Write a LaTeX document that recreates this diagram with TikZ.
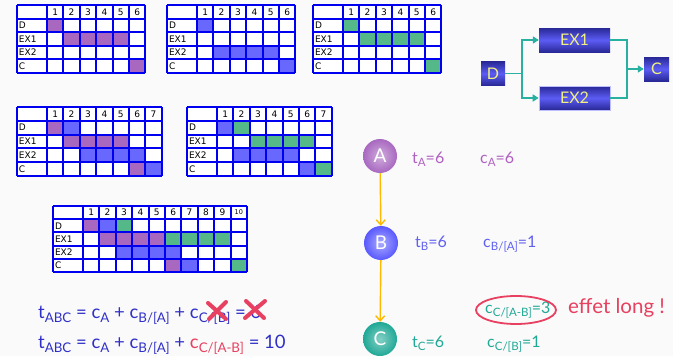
\documentclass[tikz,border=0pt]{standalone}
\usepackage{fontspec}
\usepackage{graphicx}
\setmainfont{Lato}
\newfontfamily\tabfont{DejaVu Sans}
\usetikzlibrary{arrows.meta,shapes.geometric}

\definecolor{gridblue}{RGB}{0,0,240}
\definecolor{cpurple}{RGB}{168,104,192}
\definecolor{cblue}{RGB}{104,104,255}
\definecolor{cgreen}{RGB}{84,184,136}
\definecolor{tpurple}{RGB}{176,96,192}
\definecolor{tblue}{RGB}{96,96,240}
\definecolor{tteal}{RGB}{32,168,150}
\definecolor{tred}{RGB}{232,64,96}
\definecolor{eqblue}{RGB}{48,48,200}
\definecolor{flow}{RGB}{40,176,160}
\definecolor{gold}{RGB}{255,184,0}
\definecolor{boxdark}{RGB}{40,40,150}
\definecolor{boxlight}{RGB}{92,92,245}
\definecolor{boxtext}{RGB}{240,240,130}
\definecolor{bg}{RGB}{250,250,250}

% lowered, reduced text for indices
\newcommand\lo[1]{\raisebox{-0.45ex}{\scalebox{0.72}{#1}}}

\tikzset{
  gridline/.style={gridblue, line width=2.1pt},
  hdr/.style={font=\tabfont\fontsize{9}{9}\selectfont, inner sep=0pt},
  lbl/.style={font=\tabfont\fontsize{9}{9}\selectfont, inner sep=0pt, anchor=west},
  proc/.style={top color=boxdark, bottom color=boxdark, middle color=boxlight,
    text=boxtext, font=\fontsize{16}{16}\selectfont, inner sep=0pt, minimum height=24pt},
  flowline/.style={flow, line width=1.5pt},
  flowarrow/.style={flowline, -{Triangle[length=6pt,width=7pt]}},
  event/.style={circle, minimum size=34pt, inner sep=0pt, text=white,
    font=\fontsize{19}{19}\selectfont},
  link/.style={gold, line width=1.4pt, -{Straight Barb[length=5pt,width=9pt,line width=1.4pt]}},
  info/.style={anchor=base west, inner sep=0pt, font=\fontsize{16}{16}\selectfont},
  eq/.style={anchor=base west, inner sep=0pt, text=eqblue, font=\fontsize{18.5}{18.5}\selectfont},
  cross/.style={tred, line width=4pt, line cap=round}
}

% Gantt grid: x, y, number of columns, row height, filled cells row/col/colour
\newcommand\gantt[5]{%
  \begin{scope}[shift={(#1,#2)}]
    \fill[white] (0,0) rectangle ({30+#3*16.4},{5*#4});
    \foreach \r/\c/\col in {#5}
      \fill[\col] ({30+(\c-1)*16.4},{\r*#4}) rectangle ++(16.4,#4);
    \foreach \r in {0,...,5}
      \draw[gridline] (0,{\r*#4}) -- ({30+#3*16.4},{\r*#4});
    \draw[gridline] (0,0) -- (0,{5*#4});
    \foreach \c in {0,...,#3}
      \draw[gridline] ({30+\c*16.4},0) -- ++(0,{5*#4});
    \foreach \c in {1,...,#3}
      \node[hdr] (h\c) at ({30+(\c-0.5)*16.4},{0.5*#4})
        {\ifnum\c>9 \fontsize{6.5}{7}\selectfont\fi\c};
    \foreach \l [count=\i] in {D,EX1,EX2,C}
      \node[lbl] (l\i) at (1.8,{(\i+0.5)*#4}) {\l};
  \end{scope}}

\begin{document}
\begin{tikzpicture}[x=1pt,y=-1pt]
  \fill[bg] (0,0) rectangle (673,356);
  \useasboundingbox (0,0) rectangle (673,356);

  % schedules
  \gantt{17}{5}{6}{13.6}{1/1/cpurple,2/2/cpurple,2/3/cpurple,2/4/cpurple,2/5/cpurple,4/6/cpurple}
  \gantt{167}{5}{6}{13.6}{1/1/cblue,3/2/cblue,3/3/cblue,3/4/cblue,3/5/cblue,4/6/cblue}
  \gantt{313}{5}{6}{13.6}{1/1/cgreen,2/2/cgreen,2/3/cgreen,2/4/cgreen,2/5/cgreen,4/6/cgreen}
  \gantt{17}{107}{7}{13.8}{1/1/cpurple,1/2/cblue,2/2/cpurple,2/3/cpurple,2/4/cpurple,2/5/cpurple,
    3/3/cblue,3/4/cblue,3/5/cblue,3/6/cblue,4/6/cpurple,4/7/cblue}
  \gantt{187}{107}{7}{13.8}{1/1/cblue,1/2/cgreen,2/3/cgreen,2/4/cgreen,2/5/cgreen,2/6/cgreen,
    3/2/cblue,3/3/cblue,3/4/cblue,3/5/cblue,4/6/cblue,4/7/cgreen}
  \gantt{53}{206}{10}{13.2}{1/1/cpurple,1/2/cblue,1/3/cgreen,
    2/2/cpurple,2/3/cpurple,2/4/cpurple,2/5/cpurple,2/6/cgreen,2/7/cgreen,2/8/cgreen,2/9/cgreen,
    3/3/cblue,3/4/cblue,3/5/cblue,3/6/cblue,4/6/cpurple,4/7/cblue,4/10/cgreen}

  % process graph
  \node[proc, minimum width=24pt] (bD) at (493,73.5) {D};
  \node[proc, minimum width=71pt] (bEX1) at (574.5,40) {EX1};
  \node[proc, minimum width=71pt, draw=boxlight!40!white, line width=0.6pt] (bEX2) at (574.5,98) {EX2};
  \node[proc, minimum width=25pt] (bC) at (656.5,69) {C};
  \coordinate (split) at (522,73.5);
  \coordinate (join) at (627,69);
  \draw[flowline] (bD.east) -- (split);
  \draw[flowarrow] (split) |- (bEX1.west);
  \draw[flowarrow] (split) |- (bEX2.west);
  \draw[flowline] (bEX1.east) -| (join);
  \draw[flowline] (bEX2.east) -| (join);
  \draw[flowarrow] (join) -- (bC.west);

  % chain of events
  \node[event, inner color=cpurple!55!white, outer color=cpurple] (nA) at (380,156) {A};
  \node[event, inner color=cblue!55!white, outer color=cblue!85!blue] (nB) at (381,243) {B};
  \node[event, inner color=tteal!55!white, outer color=tteal] (nC) at (380,339) {C};
  \draw[link] (nA) -- (nB);
  \draw[link] (nB) -- (nC);

  \node[info, text=tpurple] (tA) at (412,163) {t\lo{A}=6};
  \node[info, text=tpurple] (cA) at (480,163) {c\lo{A}=6};
  \node[info, text=tblue] (tB) at (415,247) {t\lo{B}=6};
  \node[info, text=tblue] (cB) at (483,247) {c\lo{B/[A]}=1};
  \node[info, text=tteal] (cCAB) at (485,313) {c\lo{C/[A-B]}=3};
  \node[info, text=tred, font=\fontsize{20.5}{20.5}\selectfont] (long) at (568,313) {effet long !};
  \node[info, text=tteal] (tC) at (412,347) {t\lo{C}=6};
  \node[info, text=tteal] (cCB) at (487,347) {c\lo{C/[B]}=1};
  \draw[tred, line width=1.8pt] (516,310) ellipse [x radius=40, y radius=14];

  % totals
  \node[eq] (eq1) at (38,318) {t\lo{ABC} = c\lo{A} + c\lo{B/[A]} + c\lo{C/[B]} = 6};
  \node[eq] (eq2) at (38,348) {t\lo{ABC} = c\lo{A} + c\lo{B/[A]} + \textcolor{tred}{c\lo{C/[A-B]}} = 10};
  \draw[cross] (208,303) -- (226,319) (226,302) -- (209,319);
  \draw[cross] (246,301) -- (264,318) (265,301) -- (245,318);
\end{tikzpicture}
\end{document}
